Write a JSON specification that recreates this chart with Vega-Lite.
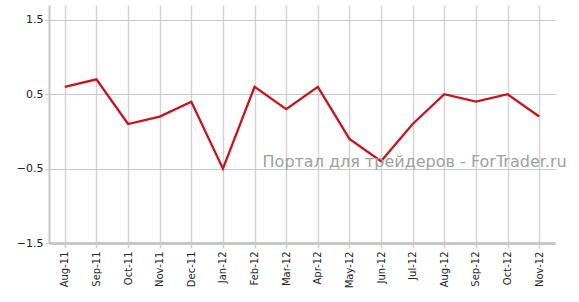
{
  "$schema": "https://vega.github.io/schema/vega-lite/v6.json",
  "width": 506,
  "height": 238,
  "autosize": {"type": "none"},
  "padding": {"left": 49, "top": 5, "right": 24, "bottom": 59},
  "background": "white",
  "config": {
    "view": {"stroke": null},
    "font": "DejaVu Sans"
  },
  "datasets": {
    "series": [
      {"month": "Aug-11", "value": 0.6},
      {"month": "Sep-11", "value": 0.7},
      {"month": "Oct-11", "value": 0.1},
      {"month": "Nov-11", "value": 0.2},
      {"month": "Dec-11", "value": 0.4},
      {"month": "Jan-12", "value": -0.5},
      {"month": "Feb-12", "value": 0.6},
      {"month": "Mar-12", "value": 0.3},
      {"month": "Apr-12", "value": 0.6},
      {"month": "May-12", "value": -0.1},
      {"month": "Jun-12", "value": -0.4},
      {"month": "Jul-12", "value": 0.1},
      {"month": "Aug-12", "value": 0.5},
      {"month": "Sep-12", "value": 0.4},
      {"month": "Oct-12", "value": 0.5},
      {"month": "Nov-12", "value": 0.2}
    ],
    "mark": [
      {"month": "Feb-12", "value": -0.5, "label": "Портал для трейдеров - ForTrader.ru"}
    ]
  },
  "layer": [
    {
      "data": {"name": "series"},
      "mark": {"type": "line", "color": "#cc1119", "strokeWidth": 2.3},
      "encoding": {
        "x": {
          "field": "month",
          "type": "ordinal",
          "sort": null,
          "scale": {"type": "point", "padding": 0.5, "domain": ["Aug-11","Sep-11","Oct-11","Nov-11","Dec-11","Jan-12","Feb-12","Mar-12","Apr-12","May-12","Jun-12","Jul-12","Aug-12","Sep-12","Oct-12","Nov-12"]},
          "axis": {
            "title": null,
            "labelAngle": -90,
            "labelFontSize": 10,
            "labelColor": "#222",
            "labelPadding": 3,
            "tickSize": 5,
            "tickColor": "#d0d0d0",
            "tickWidth": 1.5,
            "grid": true,
            "gridColor": "#d4d4d4",
            "gridWidth": 1.5,
            "domainColor": "#c8c8c8",
            "domainWidth": 3
          }
        },
        "y": {
          "field": "value",
          "type": "quantitative",
          "scale": {"domain": [-1.5, 1.7], "nice": false, "zero": false},
          "axis": {
            "title": null,
            "values": [-1.5, -0.5, 0.5, 1.5],
            "format": ".1f",
            "labelFontSize": 11,
            "labelColor": "#222",
            "labelPadding": 2,
            "tickSize": 4,
            "tickColor": "#c8c8c8",
            "grid": true,
            "gridColor": "#c8c8c8",
            "gridWidth": 1,
            "domainColor": "#c8c8c8",
            "domainWidth": 2
          }
        }
      }
    },
    {
      "data": {"name": "mark"},
      "mark": {"type": "text", "align": "left", "baseline": "alphabetic", "dx": 8, "dy": -2, "fontSize": 16, "color": "#a0a0a0"},
      "encoding": {
        "x": {"field": "month", "type": "ordinal"},
        "y": {"field": "value", "type": "quantitative"},
        "text": {"field": "label"}
      }
    }
  ]
}
